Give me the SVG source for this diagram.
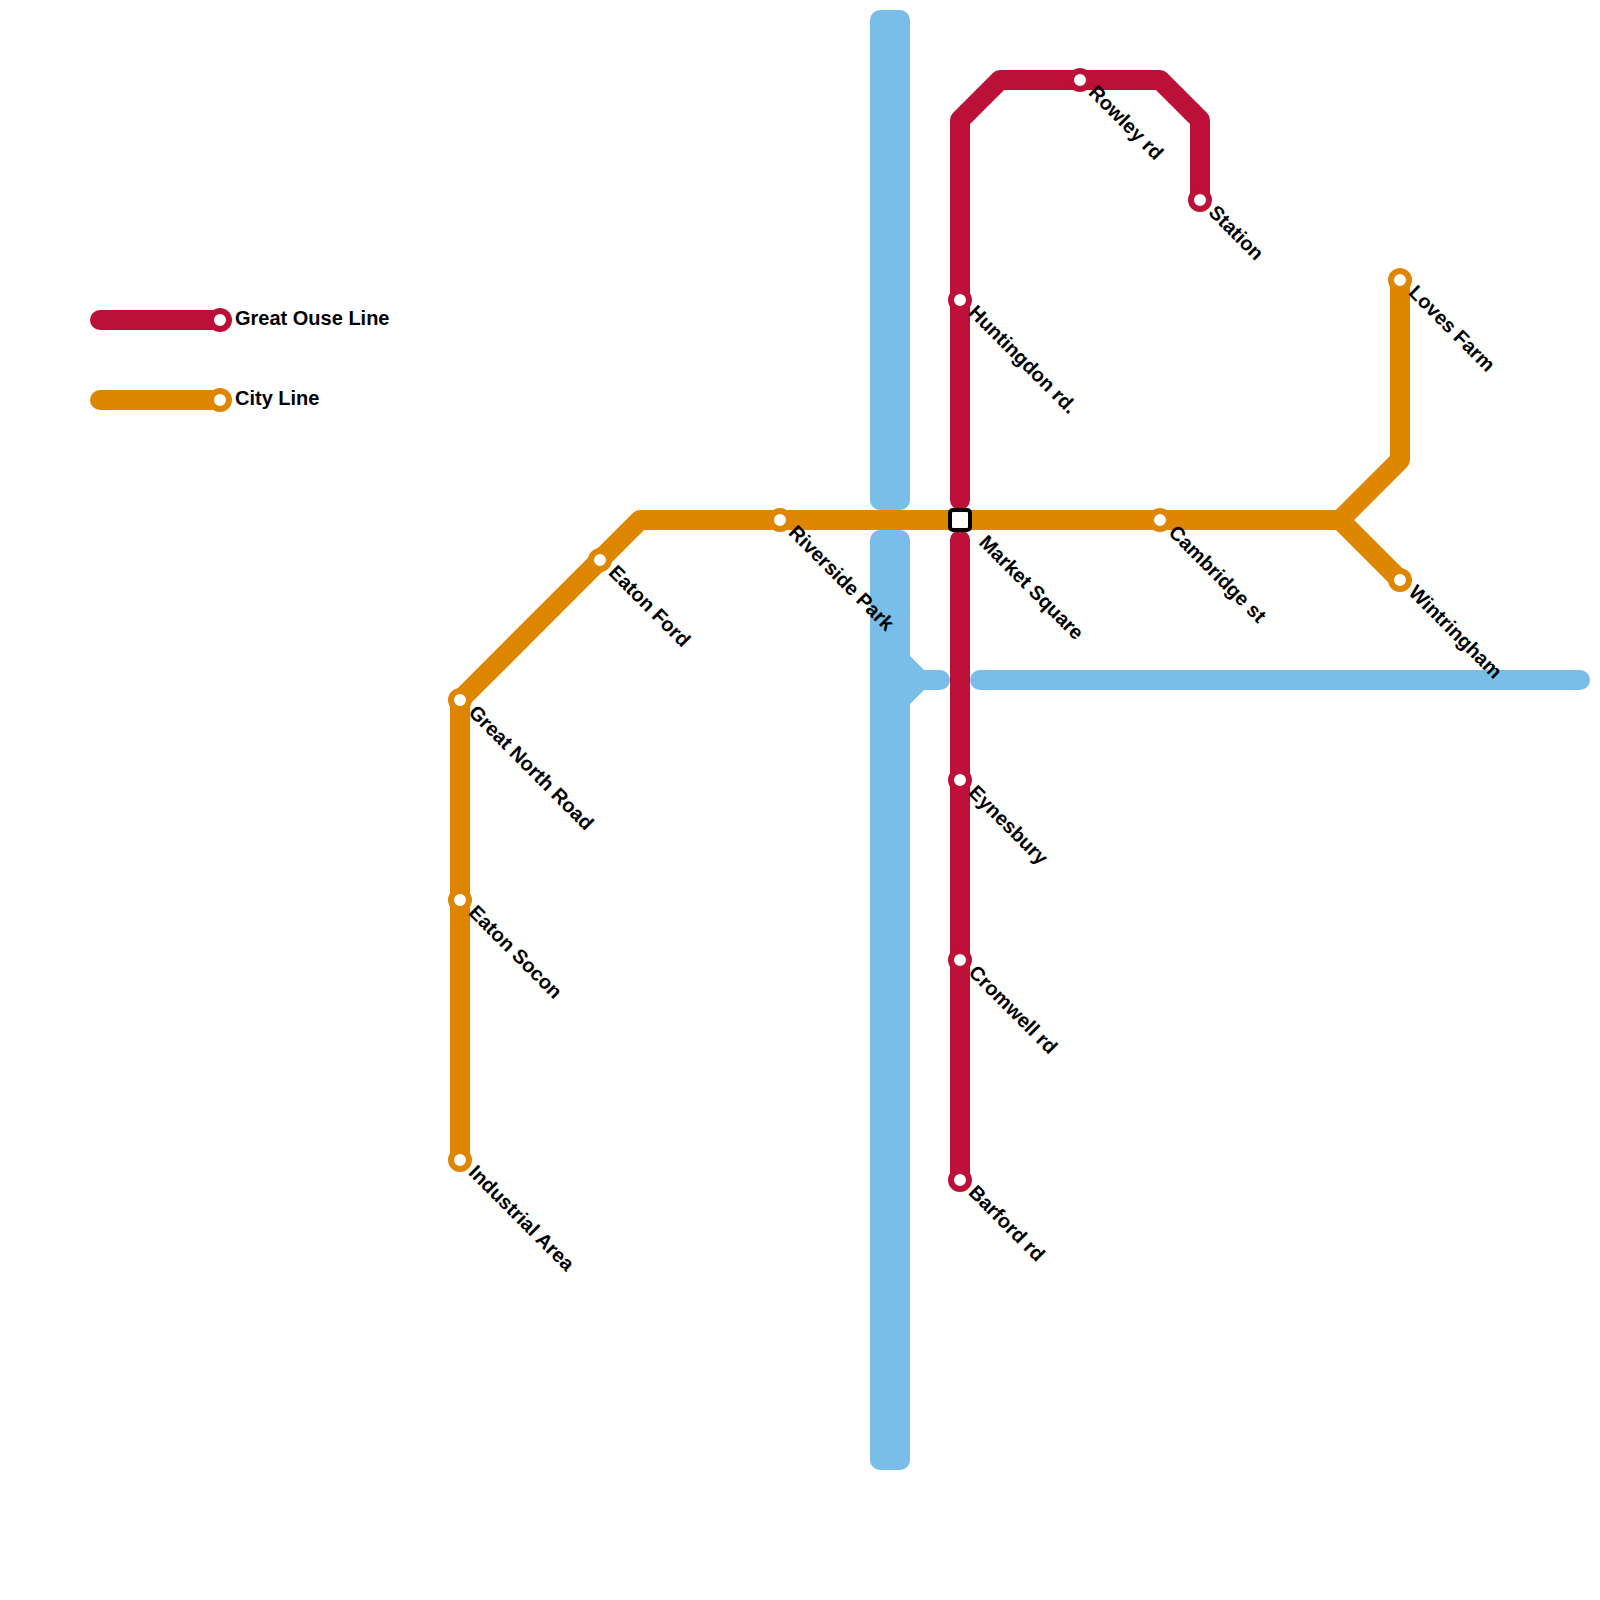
<svg xmlns="http://www.w3.org/2000/svg" width="1600" height="1600" viewBox="0 0 1600 1600">
<style>
.l{fill:none;stroke-width:20;stroke-linecap:round;stroke-linejoin:round}
.red{stroke:#bd1038}
.ora{stroke:#df8600}
.riv{stroke:#79bde9}
.st{fill:#fff;stroke-width:6}
.sr{stroke:#bd1038}
.so{stroke:#df8600}
text{font-family:"Liberation Sans",Arial,sans-serif;font-weight:700;font-size:20px;fill:#000}
</style>
<rect width="1600" height="1600" fill="#fff"/>
<g id="connectors">
<g id="river">
<rect x="870" y="10" width="40" height="500" rx="10" fill="#79bde9"/>
<rect x="870" y="530" width="40" height="940" rx="10" fill="#79bde9"/>
<path class="l riv" d="M880 640L920 680L880 720M920 680H940M980 680H1580"/>
</g>
<path id="city-line" class="l ora" d="M460 1160V700L640 520H1340L1400 460V280M1340 520L1400 580"/>
<path id="great-ouse-line" class="l red" d="M960 500V120L1000 80H1160L1200 120V200M960 540V1180"/>
<path id="legend-red" class="l red" d="M100 320H220"/>
<path id="legend-orange" class="l ora" d="M100 400H220"/>
</g>
<g id="legend-great-ouse"><circle class="st sr" cx="220" cy="320" r="9"/><text x="235" y="325">Great Ouse Line</text></g>
<g id="legend-city"><circle class="st so" cx="220" cy="400" r="9"/><text x="235" y="405">City Line</text></g>
<g id="huntingdon"><circle class="st sr" cx="960" cy="300" r="9"/><text transform="translate(967.5 313.5) rotate(45)">Huntingdon rd.</text></g>
<g id="rowley"><circle class="st sr" cx="1080" cy="80" r="9"/><text transform="translate(1087.5 93.5) rotate(45)">Rowley rd</text></g>
<g id="station"><circle class="st sr" cx="1200" cy="200" r="9"/><text transform="translate(1207.5 213.5) rotate(45)">Station</text></g>
<g id="eynesbury"><circle class="st sr" cx="960" cy="780" r="9"/><text transform="translate(967.5 793.5) rotate(45)">Eynesbury</text></g>
<g id="cromwell"><circle class="st sr" cx="960" cy="960" r="9"/><text transform="translate(967.5 973.5) rotate(45)">Cromwell rd</text></g>
<g id="barford"><circle class="st sr" cx="960" cy="1180" r="9"/><text transform="translate(967.5 1193.5) rotate(45)">Barford rd</text></g>
<g id="industrial"><circle class="st so" cx="460" cy="1160" r="9"/><text transform="translate(467.5 1173.5) rotate(45)">Industrial Area</text></g>
<g id="eaton-socon"><circle class="st so" cx="460" cy="900" r="9"/><text transform="translate(467.5 913.5) rotate(45)">Eaton Socon</text></g>
<g id="great-north"><circle class="st so" cx="460" cy="700" r="9"/><text transform="translate(467.5 713.5) rotate(45)">Great North Road</text></g>
<g id="eaton-ford"><circle class="st so" cx="600" cy="560" r="9"/><text transform="translate(607.5 573.5) rotate(45)">Eaton Ford</text></g>
<g id="riverside"><circle class="st so" cx="780" cy="520" r="9"/><text transform="translate(787.5 533.5) rotate(45)">Riverside Park</text></g>
<g id="cambridge"><circle class="st so" cx="1160" cy="520" r="9"/><text transform="translate(1167.5 533.5) rotate(45)">Cambridge st</text></g>
<g id="loves-farm"><circle class="st so" cx="1400" cy="280" r="9"/><text transform="translate(1407.5 293.5) rotate(45)">Loves Farm</text></g>
<g id="wintringham"><circle class="st so" cx="1400" cy="580" r="9"/><text transform="translate(1407.5 593.5) rotate(45)">Wintringham</text></g>
<g id="market-square"><rect x="950" y="510" width="20" height="20" rx="3" fill="#fff" stroke="#000" stroke-width="4"/><text transform="translate(978 543.5) rotate(45)">Market Square</text></g>
</svg>
